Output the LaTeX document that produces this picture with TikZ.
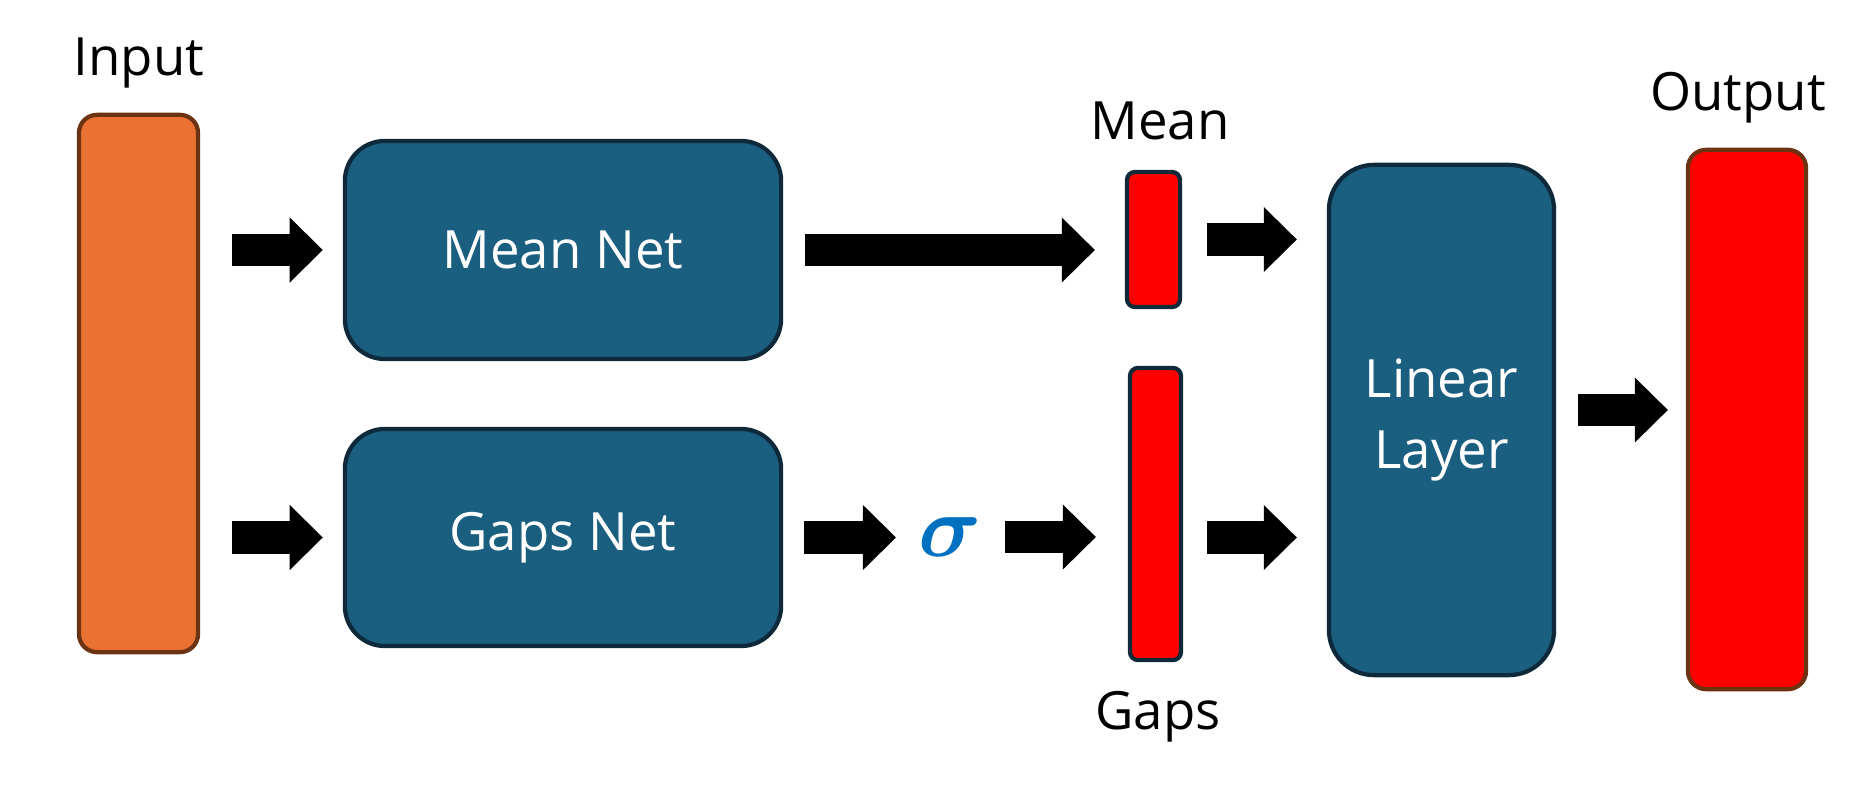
\documentclass[tikz,border=0pt]{standalone}
\usepackage{amsmath}
\usepackage{bm}
\usepackage{fontspec}
\setmainfont{Open Sans}
\usepackage{tikz}
\usetikzlibrary{arrows.meta}

\definecolor{netblue}{HTML}{1A5E80}
\definecolor{netedge}{HTML}{0E2A3A}
\definecolor{inorange}{HTML}{E97132}
\definecolor{inedge}{HTML}{6B3312}
\definecolor{sigblue}{HTML}{0070C0}

\tikzset{
  netbox/.style={draw=netedge, line width=1.2pt, fill=netblue, text=white,
    rounded corners=0.4cm, align=center, font=\fontsize{15}{20.2}\selectfont},
  vecbox/.style={draw=netedge, line width=1.2pt, fill=red, rounded corners=0.08cm},
  layerbox/.style={draw=inedge, line width=1.2pt, rounded corners=0.18cm},
  tag/.style={anchor=base, inner sep=0pt, font=\fontsize{15}{18}\selectfont},
  blockarrow/.style={line width=0.32cm,
    -{Triangle[length=0.33cm, width=0.65cm, line width=0pt]}}
}

\begin{document}
\begin{tikzpicture}[x=0.01cm, y=-0.01cm]
    \useasboundingbox (0,0) rectangle (1862,788);

    % boxes
    \node [layerbox, fill=inorange, minimum width=1.19cm, minimum height=5.37cm] (input) at (138.5, 383.5) {};
    \node [netbox, minimum width=4.36cm, minimum height=2.18cm] (mnet) at (563, 250) {Mean Net};
    \node [netbox, minimum width=4.36cm, minimum height=2.17cm] (gnet) at (563, 537.5) {Gaps Net};
    \node [vecbox, minimum width=0.53cm, minimum height=1.35cm] (mean) at (1153.5, 239.5) {};
    \node [vecbox, minimum width=0.51cm, minimum height=2.92cm] (gaps) at (1155.5, 514) {};
    \node [netbox, rounded corners=0.45cm, minimum width=2.25cm, minimum height=5.10cm] (lin) at (1441.5, 420) {Linear\\Layer};
    \node [layerbox, fill=red, minimum width=1.18cm, minimum height=5.39cm] (out) at (1747, 419.5) {};
    \node [inner sep=0pt, text=sigblue, font=\fontsize{24}{28}\selectfont] (sig) at (950, 537) {$\boldsymbol{\sigma}$};

    % labels
    \node [tag] (inlab) at (139, 76) {Input};
    \node [tag] (meanlab) at (1160, 140) {Mean};
    \node [tag] (gapslab) at (1158, 730) {Gaps};
    \node [tag] (outlab) at (1738, 111) {Output};

    % arrows
    \draw [blockarrow, shorten <=0.32cm, shorten >=0.20cm] (input.east |- mnet.west) -- (mnet.west);
    \draw [blockarrow, shorten <=0.32cm, shorten >=0.20cm] (input.east |- gnet.west) -- (gnet.west);
    \draw [blockarrow, shorten <=0.22cm, shorten >=0.30cm] (mnet.east) -- (mnet.east -| mean.west);
    \draw [blockarrow, shorten <=0.21cm, shorten >=0.54cm] (gnet.east) -- (gnet.east -| sig.center);
    \draw [blockarrow, shorten <=0.55cm, shorten >=0.32cm] (sig.center) -- (sig.center -| gaps.west);
    \draw [blockarrow, shorten <=0.25cm, shorten >=0.30cm] (mean.east) -- (mean.east -| lin.west);
    \draw [blockarrow, shorten <=0.24cm, shorten >=0.30cm] (gaps.east |- gnet.east) -- (lin.west |- gnet.east);
    \draw [blockarrow, shorten <=0.22cm, shorten >=0.18cm] ([yshift=0.1cm]lin.east) -- ([yshift=0.1cm]lin.east -| out.west);
  \end{tikzpicture}
\end{document}
